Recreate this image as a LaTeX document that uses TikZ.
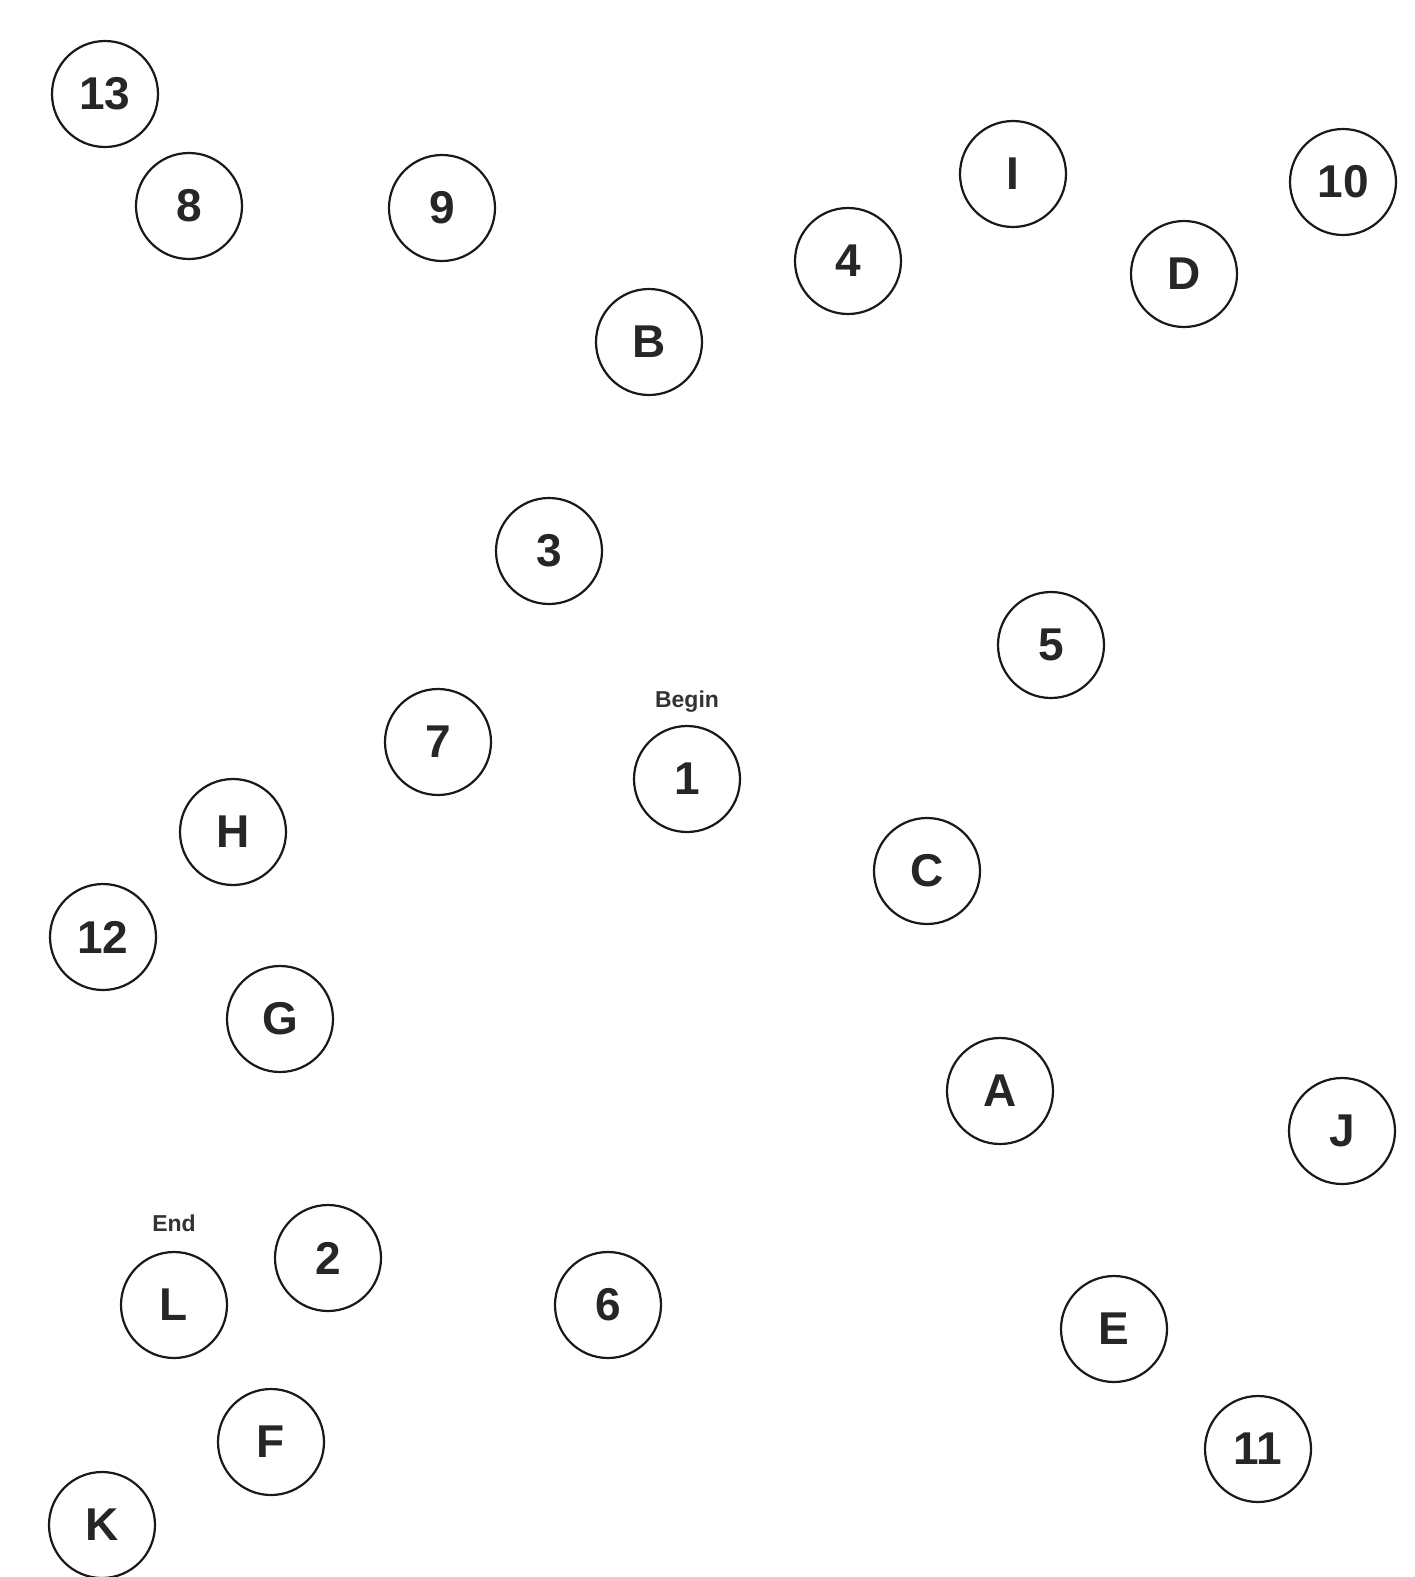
\documentclass[tikz,border=0pt]{standalone}
\usepackage{fontspec}
\setmainfont{Liberation Sans}
\begin{document}
\begin{tikzpicture}[x=1pt,y=-1pt,
  tm/.style={circle,draw=black!90,line width=2.2pt,minimum size=106pt,inner sep=0pt,
    font=\fontsize{46}{46}\selectfont\bfseries,text=black!85},
  lbl/.style={font=\fontsize{23}{23}\selectfont\bfseries,text=black!80}]
\fill[white] (0,0) rectangle (1415,1577);
\useasboundingbox (0,0) rectangle (1415,1577);
\node[tm] (n13) at (105,94) {13};
\node[tm] (n8) at (189,206) {8};
\node[tm] (n9) at (442,208) {9};
\node[tm] (nI) at (1013,174) {I};
\node[tm] (n10) at (1343,182) {10};
\node[tm] (n4) at (848,261) {4};
\node[tm] (nD) at (1184,274) {D};
\node[tm] (nB) at (649,342) {B};
\node[tm] (n3) at (549,551) {3};
\node[tm] (n5) at (1051,645) {5};
\node[lbl] (begin) at (687,702) {Begin};
\node[tm] (n7) at (438,742) {7};
\node[tm] (n1) at (687,779) {1};
\node[tm] (nH) at (233,832) {H};
\node[tm] (nC) at (927,871) {C};
\node[tm] (n12) at (103,937) {12};
\node[tm] (nG) at (280,1019) {G};
\node[tm] (nA) at (1000,1091) {A};
\node[tm] (nJ) at (1342,1131) {J};
\node[lbl] (end) at (174,1223) {End};
\node[tm] (n2) at (328,1258) {2};
\node[tm] (nL) at (174,1305) {L};
\node[tm] (n6) at (608,1305) {6};
\node[tm] (nE) at (1114,1329) {E};
\node[tm] (nF) at (271,1442) {F};
\node[tm] (n11) at (1258,1449) {11};
\node[tm] (nK) at (102,1525) {K};
\end{tikzpicture}
\end{document}
